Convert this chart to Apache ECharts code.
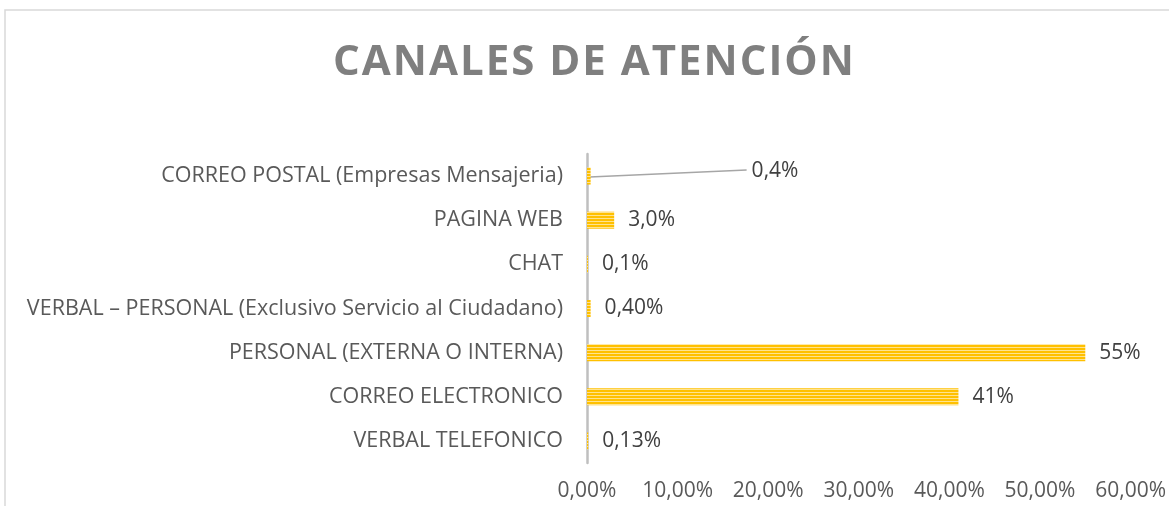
<!DOCTYPE html>
<html>
<head>
<meta charset="utf-8">
<script src="https://cdn.jsdelivr.net/npm/echarts@6/dist/echarts.min.js"></script>
<style>
  html, body { margin: 0; padding: 0; background: #fff; }
  #wrap { position: relative; width: 1169px; height: 506px; overflow: hidden; }
  #chart { width: 1169px; height: 506px; }
  #titulo {
    position: absolute; left: 10px; top: 37px; width: 1169px; text-align: center;
    font-family: 'Open Sans'; font-weight: bold; font-size: 42px; line-height: 43px;
    letter-spacing: 2px; color: #7f7f7f; pointer-events: none;
  }
</style>
</head>
<body>
<div id="wrap">
  <div id="chart"></div>
  <div id="titulo">CANALES DE ATENCIÓN</div>
</div>
<script>
"use strict";

// canales de atencion - barras horizontales
var categories = [
    'VERBAL TELEFONICO',
    'CORREO ELECTRONICO',
    'PERSONAL (EXTERNA O INTERNA)',
    'VERBAL \u2013 PERSONAL (Exclusivo Servicio al Ciudadano)',
    'CHAT',
    'PAGINA WEB',
    'CORREO POSTAL (Empresas Mensajeria)'
];
var values = [0.0013, 0.41, 0.55, 0.004, 0.001, 0.03, 0.004];
var valueLabels = ['0,13%', '41%', '55%', '0,40%', '0,1%', '3,0%', '0,4%'];
var tickLabels = ['0,00%', '10,00%', '20,00%', '30,00%', '40,00%', '50,00%', '60,00%'];

// etiqueta desplazada con linea guia (CORREO POSTAL)
var movedIndex = 6;
var moveDx = 147, moveDy = -5, labelGap = 14;

// patron de rayas horizontales para las barras
function stripes() {
    var c = document.createElement('canvas');
    c.width = 4;
    c.height = 3;
    var ctx = c.getContext('2d');
    ctx.fillStyle = '#ffc000';
    ctx.fillRect(0, 0, 4, 2);
    ctx.fillStyle = '#ffe38f';
    ctx.fillRect(0, 2, 4, 1);
    return c;
}

var myChart = echarts.init(document.getElementById('chart'));
var font = 'Open Sans';

var option = {
    animation: false,
    graphic: [{
        type: 'rect',
        shape: { x: 5, y: 10, width: 2000, height: 2000 },
        style: { fill: 'none', stroke: '#d9d9d9', lineWidth: 1.5 },
        silent: true
    }],
    grid: { left: 587, right: 38, top: 154, bottom: 43 },
    xAxis: {
        type: 'value',
        min: 0,
        max: 0.6,
        interval: 0.1,
        axisLine: { show: false },
        axisTick: { show: false },
        splitLine: { show: false },
        axisLabel: {
            margin: 18,
            fontFamily: font,
            fontSize: 21,
            color: '#595959',
            formatter: function (v) { return tickLabels[Math.round(v * 10)]; }
        }
    },
    yAxis: {
        type: 'category',
        data: categories,
        axisLine: { show: true, lineStyle: { color: '#bfbfbf', width: 2.5 } },
        axisTick: { show: false },
        axisLabel: { margin: 24, fontFamily: font, fontSize: 21.5, color: '#595959' }
    },
    series: [{
        type: 'bar',
        data: values,
        barWidth: 17,
        itemStyle: { color: { image: stripes(), repeat: 'repeat' } },
        label: {
            show: true,
            position: 'right',
            distance: labelGap,
            fontFamily: font,
            fontSize: 21,
            color: '#404040',
            formatter: function (p) { return valueLabels[p.dataIndex]; }
        },
        labelLayout: function (p) {
            if (p.dataIndex === movedIndex) {
                return { dx: moveDx, dy: moveDy };
            }
            return {};
        }
    }]
};

myChart.setOption(option);

// linea guia desde el extremo de la barra hasta la etiqueta
var start = myChart.convertToPixel({ seriesIndex: 0 }, [values[movedIndex], movedIndex]);
myChart.setOption({
    graphic: [{}, {
        type: 'line',
        silent: true,
        shape: {
            x1: start[0] - 1, y1: start[1] + 1,
            x2: start[0] + labelGap + moveDx - 5, y2: start[1] + moveDy - 1
        },
        style: { stroke: '#a6a6a6', lineWidth: 1.5 }
    }]
});
</script>
</body>
</html>
